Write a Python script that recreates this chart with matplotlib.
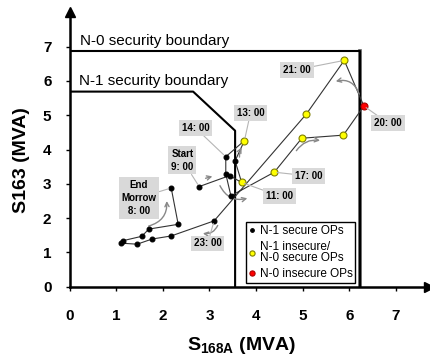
import matplotlib
matplotlib.use('Agg')
import matplotlib.pyplot as plt
from matplotlib.patches import FancyArrowPatch

plt.rcParams['font.family'] = ['Liberation Sans', 'DejaVu Sans']
plt.rcParams['mathtext.fontset'] = 'custom'
plt.rcParams['mathtext.rm'] = 'Liberation Sans'
plt.rcParams['mathtext.bf'] = 'Liberation Sans:bold'

# operating points, hourly from 9:00 to 8:00 next day
hours = [9, 10, 11, 12, 13, 14, 15, 16, 17, 18, 19, 20, 21, 22, 23,
         0, 1, 2, 3, 4, 5, 6, 7, 8]
s168a = [2.78, 3.43, 3.69, 3.55, 3.75, 3.35, 3.35, 3.46, 4.39, 4.98, 5.87, 6.31,
         5.89, 5.08, 3.10, 2.18, 1.77, 1.45, 1.10, 1.14, 1.55, 1.70, 2.33, 2.18]
s163 = [2.92, 3.24, 3.04, 3.67, 4.26, 3.79, 3.29, 2.65, 3.34, 4.33, 4.42, 5.27,
        6.60, 5.04, 1.92, 1.48, 1.39, 1.24, 1.27, 1.34, 1.47, 1.68, 1.82, 2.88]
# 0 = N-1 secure, 1 = N-1 insecure / N-0 secure, 2 = N-0 insecure
status = [0, 0, 1, 0, 1, 0, 0, 0, 1, 1, 1, 2, 1, 1, 0,
          0, 0, 0, 0, 0, 0, 0, 0, 0]

n0_x = [0, 6.23, 6.23]
n0_y = [6.87, 6.87, 0]
n1_x = [0, 2.65, 3.55, 3.55]
n1_y = [5.69, 5.69, 4.55, 0]

# labelled hours and where their boxes sit
label_hours = [9, 11, 13, 14, 17, 20, 21, 23, 8]
label_text = ['Start\n9: 00', '11: 00', '13: 00', '14: 00', '17: 00', '20: 00',
              '21: 00', '23: 00', 'End\nMorrow\n8: 00']
label_pos = [(2.42, 3.69), (4.51, 2.64), (3.88, 5.07), (2.70, 4.63), (5.13, 3.23),
             (6.83, 4.77), (4.88, 6.33), (2.96, 1.26), (1.49, 2.59)]

# gray direction arrows (start, end, curvature)
arrows = [((1.64, 1.75), (2.08, 2.58), 0.45),
          ((2.86, 3.14), (3.12, 3.24), 0.0),
          ((3.65, 3.70), (3.72, 4.13), -0.2),
          ((3.20, 3.02), (3.87, 2.60), 0.45),
          ((3.20, 1.86), (2.80, 1.57), -0.45),
          ((4.83, 3.90), (5.43, 4.25), -0.35),
          ((6.23, 5.54), (5.65, 5.97), 0.5)]

fig = plt.figure(figsize=(4.3, 3.58), dpi=100)
ax = fig.add_axes([69.5 / 430, 71.3 / 358, 359.2 / 430, 274.3 / 358])
ax.set_xlim(0, 7.7)
ax.set_ylim(0, 8.0)

ax.plot(n0_x, n0_y, color='black', lw=1.5, zorder=2)
ax.plot(n0_x[1:], n0_y[1:], color='#555555', lw=2.6, zorder=1.9)
ax.plot(n1_x, n1_y, color='black', lw=1.5, zorder=2)
ax.text(0.22, 7.05, 'N-0 security boundary', fontsize=11)
ax.text(0.2, 5.87, 'N-1 security boundary', fontsize=11)

ax.plot(s168a, s163, color='#333333', lw=0.8, zorder=3)

colors = ['black', '#ffff00', '#ff0000']
edges = ['black', '#7f7f00', '#aa0000']
names = ['N-1 secure OPs', 'N-1 insecure/\nN-0 secure OPs', 'N-0 insecure OPs']
sizes = [3.5, 5, 5]
for k in range(3):
    xs = [x for x, s in zip(s168a, status) if s == k]
    ys = [y for y, s in zip(s163, status) if s == k]
    ax.plot(xs, ys, 'o', ms=sizes[k], mfc=colors[k], mec=edges[k], mew=0.8,
            label=names[k], zorder=4)

for h, txt, pos in zip(label_hours, label_text, label_pos):
    i = hours.index(h)
    ax.annotate(txt, xy=(s168a[i], s163[i]), xytext=pos, ha='center', va='center',
                fontsize=7, fontweight='bold', linespacing=1.35,
                bbox=dict(boxstyle='square,pad=0.3', fc='#d9d9d9', ec='none'),
                arrowprops=dict(arrowstyle='-', color='#b5b5b5', lw=0.8,
                                shrinkA=0, shrinkB=2), zorder=5)

for a, b, rad in arrows:
    ax.add_patch(FancyArrowPatch(a, b, connectionstyle='arc3,rad=%s' % rad,
                                 arrowstyle='->,head_length=3,head_width=1.5',
                                 color='#888888', lw=1.0, zorder=3))

for side in ['top', 'right']:
    ax.spines[side].set_visible(False)
ax.spines['left'].set_linewidth(1.8)
ax.spines['bottom'].set_linewidth(1.8)
ax.plot(1, 0, '>k', ms=7, transform=ax.transAxes, clip_on=False)
ax.plot(0, 1, '^k', ms=7, transform=ax.transAxes, clip_on=False)

ax.set_xticks(range(8))
ax.set_yticks(range(8))
ax.tick_params(axis='x', length=3, width=1, pad=13, labelsize=11)
ax.tick_params(axis='y', length=3, width=1, pad=10, labelsize=11)
for t in ax.get_xticklabels() + ax.get_yticklabels():
    t.set_fontweight('bold')

fig.text(242 / 430, 1 - 345 / 358, r'S$_{\mathbf{168A}}$ (MVA)', fontsize=14,
         fontweight='bold', ha='center', va='center')
fig.text(22 / 430, 1 - 160 / 358, 'S163 (MVA)', fontsize=14, fontweight='bold',
         rotation=90, ha='center', va='center')

leg = ax.legend(loc='lower left', bbox_to_anchor=(246 / 430, 1 - 283 / 358),
                bbox_transform=fig.transFigure, borderaxespad=0, fontsize=8.5,
                handlelength=0.6, handletextpad=0.3, borderpad=0.25,
                labelspacing=0.35, fancybox=False, framealpha=1, edgecolor='black',
                markerscale=0.75)
leg.get_frame().set_linewidth(1.0)
for t in leg.get_texts():
    t.set_linespacing(0.9)

fig.savefig('out.png', dpi=100)
